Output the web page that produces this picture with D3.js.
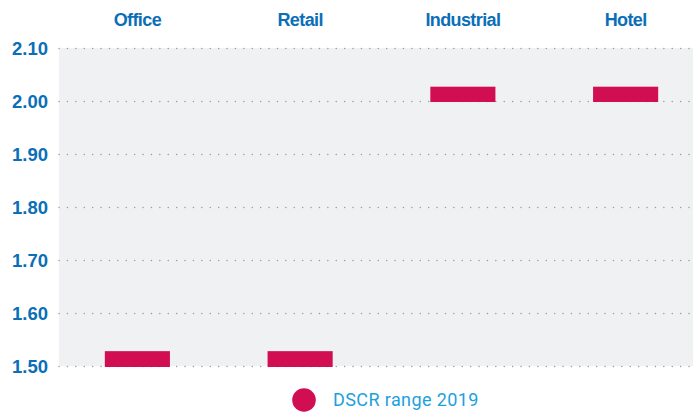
<!DOCTYPE html>
<html>
<head>
<meta charset="utf-8">
<script src="https://cdn.jsdelivr.net/npm/d3@7"></script>
<style>
  body { margin: 0; background: #fff; }
  svg { display: block; font-family: Roboto, "Noto Sans", sans-serif; }
</style>
</head>
<body>
<div class="main"></div>
<script>
  //Data
  const categories = ['Office', 'Retail', 'Industrial', 'Hotel'];
  const rangeLow = [1.50, 1.50, 2.00, 2.00];
  const rangeHigh = [1.528, 1.528, 2.027, 2.027];
  const yTicks = [1.50, 1.60, 1.70, 1.80, 1.90, 2.00, 2.10];
  const seriesName = 'DSCR range 2019';

  //Variables
  const width = 696,
        height = 412,
        plot = {left: 59, right: 693, top: 48, bottom: 366};

  const dataset = categories.map((c, i) => ({cat: c, lo: rangeLow[i], hi: rangeHigh[i]}));

  //Create Canvas
  const svg = d3.select('.main')
                .append('svg')
                .attr('width', width)
                .attr('height', height);

  //Create Scales
  const yScale = d3.scaleLinear()
                   .domain([1.5, 2.1])
                   .range([plot.bottom, plot.top]);

  const xScale = d3.scaleBand()
                   .domain(categories)
                   .range([56, 707])
                   .paddingInner(0.6)
                   .paddingOuter(0.3);

  //Plot background
  svg.append('rect')
     .attr('x', plot.left)
     .attr('y', plot.top)
     .attr('width', plot.right - plot.left)
     .attr('height', plot.bottom - plot.top)
     .attr('fill', '#f0f1f3');

  //Grid lines + y labels
  const yAxis = svg.append('g')
                   .attr('transform', `translate(${plot.left}, 0)`)
                   .call(d3.axisLeft(yScale)
                           .tickValues(yTicks)
                           .tickFormat(d3.format('.2f'))
                           .tickSize(-(plot.right - plot.left))
                           .tickPadding(11));
  yAxis.select('.domain').remove();
  yAxis.selectAll('line')
       .attr('stroke', '#9a9a9a')
       .attr('stroke-width', 1.4)
       .attr('stroke-linecap', 'round')
       .attr('stroke-dasharray', '0.1,8.3');
  yAxis.selectAll('text')
       .attr('fill', '#0b6fb7')
       .attr('font-size', 18.5)
       .attr('font-weight', 'bold')
       .attr('dy', '0.36em');

  //Category labels on top
  const xAxis = svg.append('g')
                   .attr('transform', 'translate(0, 26)')
                   .call(d3.axisTop(xScale).tickSize(0).tickPadding(0));
  xAxis.select('.domain').remove();
  xAxis.selectAll('text')
       .attr('fill', '#0b6fb7')
       .attr('font-size', 18)
       .attr('font-weight', 'bold')
       .attr('letter-spacing', '-0.6');

  //Create Bars
  svg.selectAll('rect.bar')
     .data(dataset)
     .enter()
     .append('rect')
     .attr('class', 'bar')
     .attr('x', d => xScale(d.cat))
     .attr('width', xScale.bandwidth())
     .attr('y', d => yScale(d.hi))
     .attr('height', d => yScale(d.lo) - yScale(d.hi) + 1)
     .attr('fill', '#d10e52');

  //Legend
  const legend = svg.append('g').attr('transform', 'translate(304, 400)');
  legend.append('circle')
        .attr('r', 11.8)
        .attr('fill', '#d10e52');
  legend.append('text')
        .attr('x', 29)
        .attr('dy', '0.36em')
        .attr('fill', '#1da1dd')
        .attr('font-size', 18)
        .attr('letter-spacing', '0.4')
        .text(seriesName);
</script>
</body>
</html>
